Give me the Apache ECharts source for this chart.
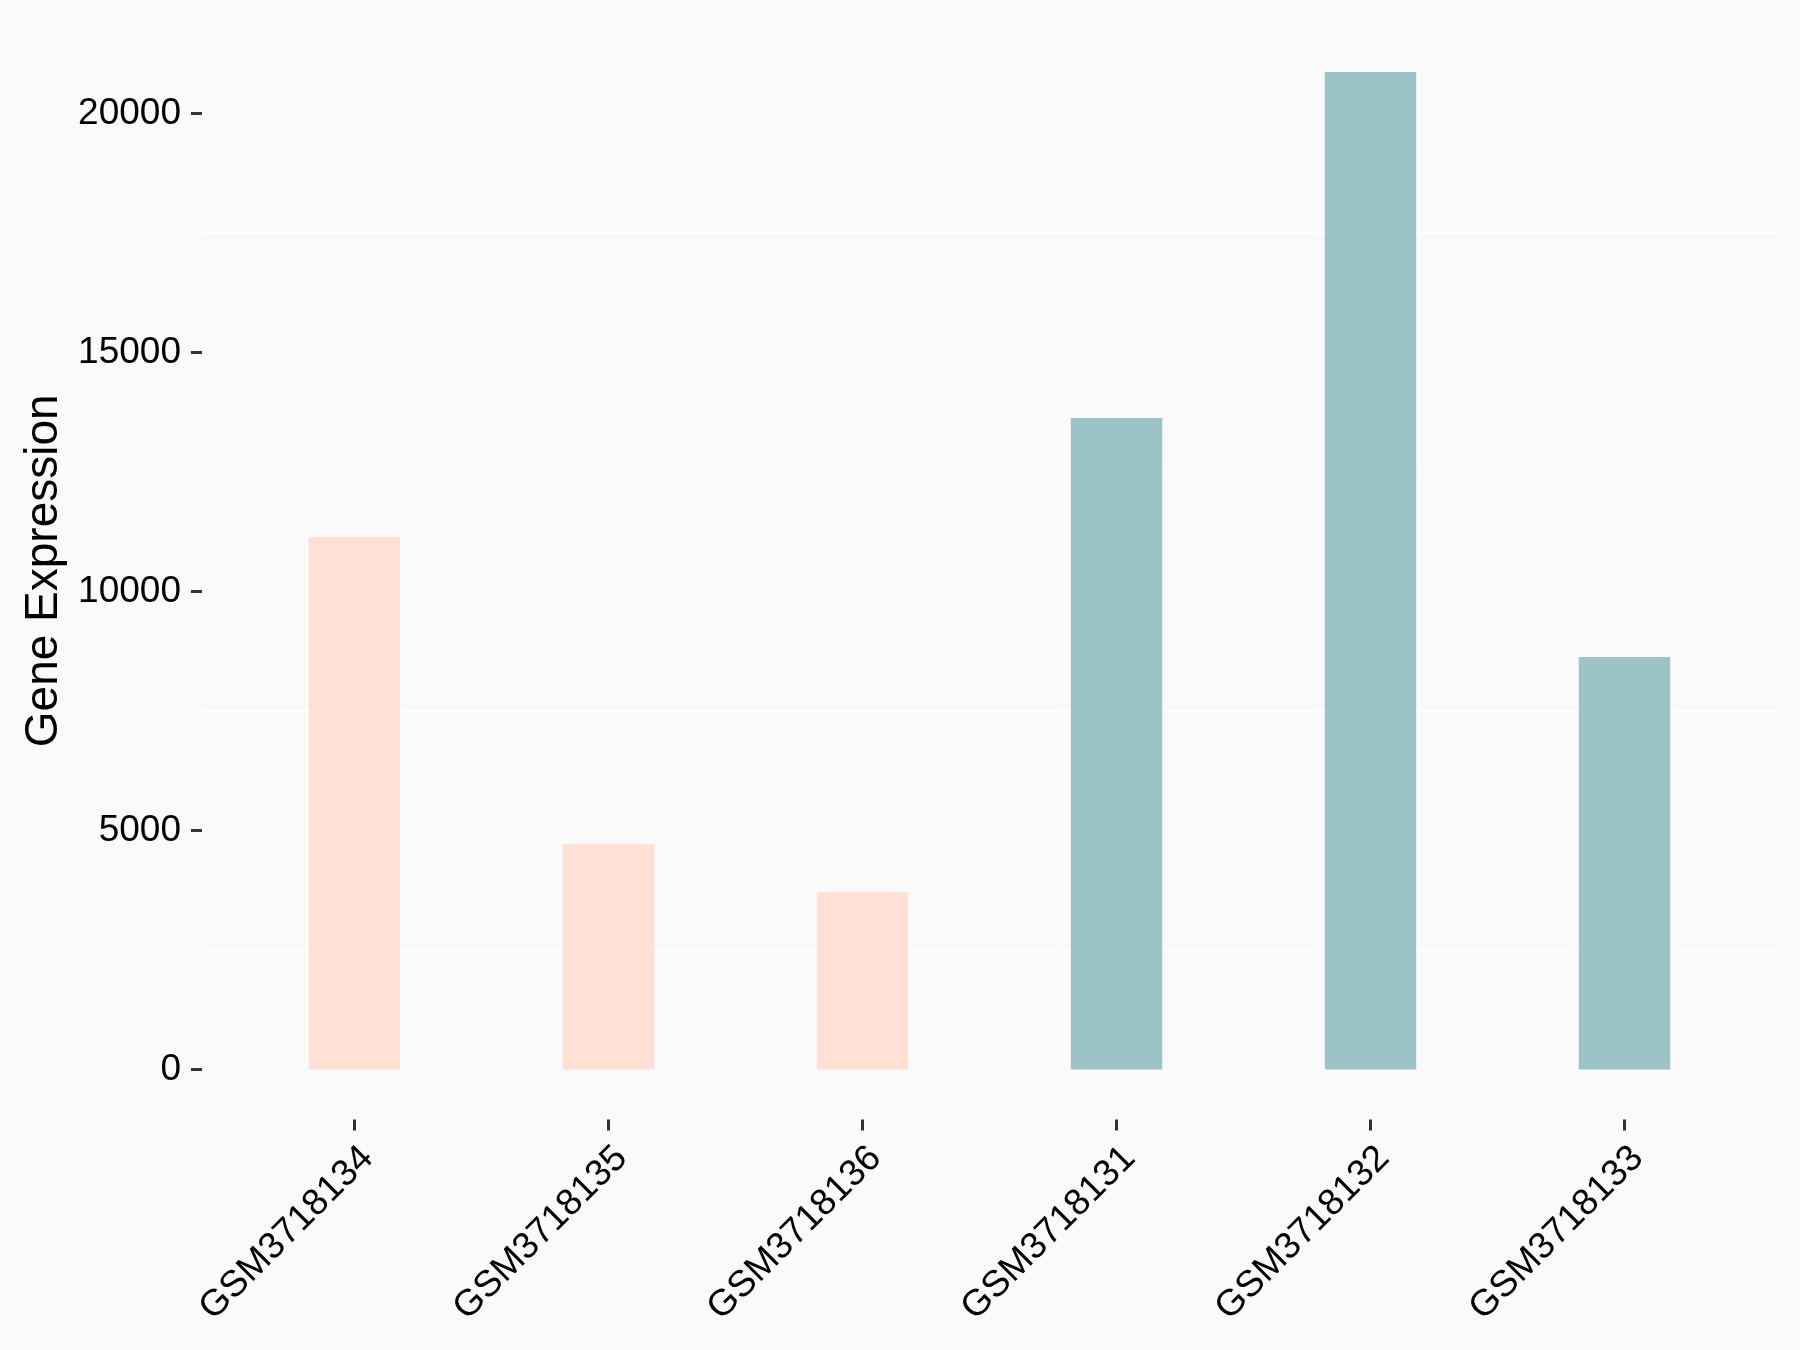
<!DOCTYPE html>
<html>
<head>
<meta charset="utf-8">
<script src="https://cdn.jsdelivr.net/npm/echarts@6/dist/echarts.min.js"></script>
<style>
html,body{margin:0;padding:0;background:#FAFAFA;}
#chart{width:1800px;height:1350px;}
</style>
</head>
<body>
<div id="chart"></div>
<script>
// ---- data ----
const categories = ['GSM3718134','GSM3718135','GSM3718136','GSM3718131','GSM3718132','GSM3718133'];
const values = [11140, 4717, 3713, 13630, 20868, 8630];
const groups = ['A','A','A','B','B','B'];
const yTicks = [0, 5000, 10000, 15000, 20000];
const minorGrid = [2500, 7500, 12500, 17500];
const yTitle = 'Gene Expression';

const groupColors = {A: '#FEE0D5', B: '#9CC3C7'};
const yMin = -1043, yMax = 21911;
const font = 'Liberation Sans, Arial, sans-serif';

const chart = echarts.init(document.getElementById('chart'), null, {renderer: 'canvas'});
chart.setOption({
  backgroundColor: '#FAFAFA',
  animation: false,
  grid: [
    {left: 227.5, right: 48.5, top: 22.2, bottom: 230.6},
    {left: 202, right: 23, top: 22.2, bottom: 230.6}
  ],
  xAxis: [
    {
      type: 'category', gridIndex: 0, data: categories,
      axisLine: {show: false, onZero: false},
      axisTick: {show: true, alignWithLabel: true, length: 11, lineStyle: {color: '#333333', width: 3}},
      axisLabel: {interval: 0, rotate: 45, align: 'right', verticalAlign: 'top', margin: 20,
                  fontSize: 37, color: '#000000', fontFamily: font},
      splitLine: {show: false}
    },
    {
      type: 'value', gridIndex: 1, min: 0, max: 1, show: false
    }
  ],
  yAxis: [
    {
      type: 'value', gridIndex: 0, min: yMin, max: yMax, show: false,
      splitLine: {show: false}
    },
    {
      type: 'value', gridIndex: 1, min: yMin, max: yMax,
      axisLine: {show: false},
      axisTick: {show: true, length: 11, customValues: yTicks, lineStyle: {color: '#333333', width: 3}},
      axisLabel: {customValues: yTicks, margin: 21, fontSize: 37, color: '#000000', fontFamily: font,
                  formatter: v => String(v)},
      splitLine: {show: false},
      name: yTitle, nameLocation: 'middle', nameGap: 122, nameRotate: 90,
      nameTextStyle: {fontSize: 46, color: '#000000', fontFamily: font}
    }
  ],
  series: [
    {
      type: 'line', xAxisIndex: 1, yAxisIndex: 1, data: [], z: 1, silent: true,
      markLine: {
        silent: true, z: 0, symbol: ['none','none'], label: {show: false},
        lineStyle: {color: '#FFFFFF', width: 2, type: 'solid'},
        data: minorGrid.map(v => ({yAxis: v}))
      }
    },
    {
      type: 'bar', xAxisIndex: 0, yAxisIndex: 0, z: 5, barWidth: '36%',
      data: values.map((v, i) => ({value: v, itemStyle: {color: groupColors[groups[i]]}}))
    }
  ]
});
</script>
</body>
</html>
